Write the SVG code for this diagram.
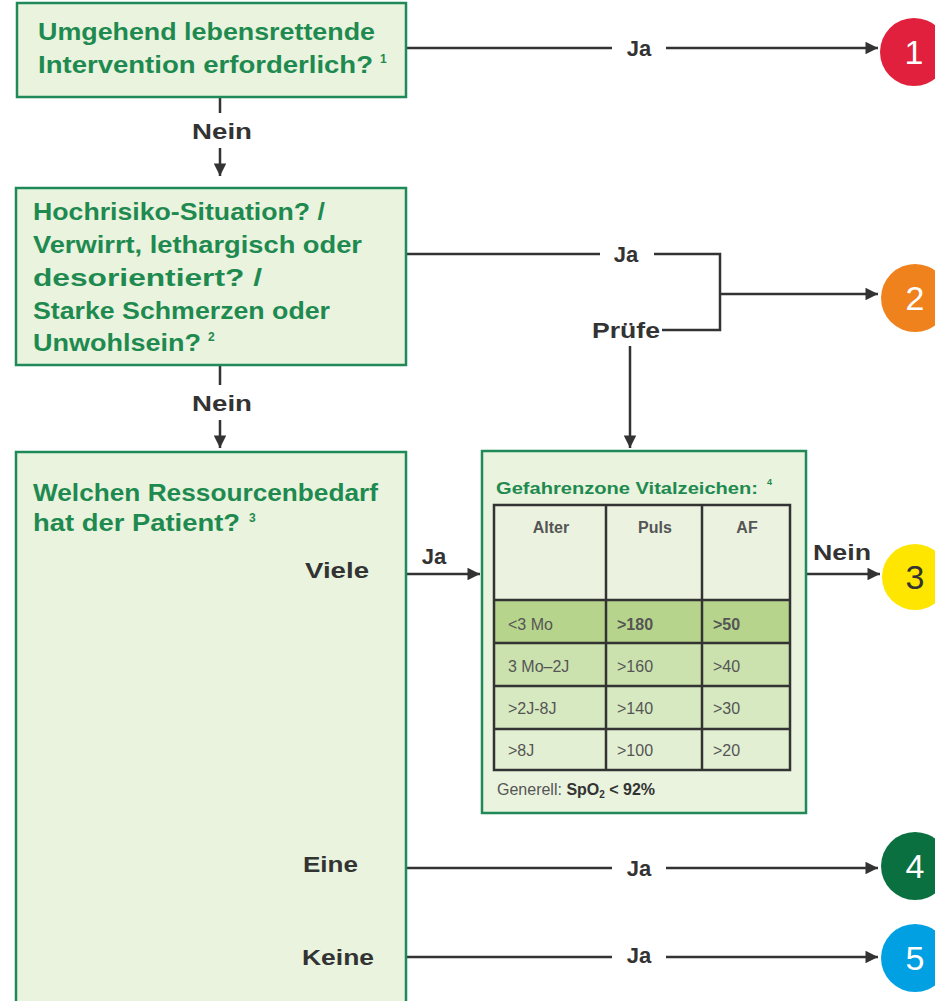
<svg xmlns="http://www.w3.org/2000/svg" width="935" height="1001" viewBox="0 0 935 1001">
<defs>
<style>
.box{fill:#e9f3de;stroke:#1f8a58;stroke-width:2.5}
.q{font-family:"Liberation Sans",Arial,sans-serif;font-weight:bold;font-size:24px;fill:#1f8a50}
.qs{font-family:"Liberation Sans",Arial,sans-serif;font-weight:bold;font-size:16px;fill:#1f8a50}
.sup{font-family:"Liberation Sans",Arial,sans-serif;font-weight:bold;font-size:12px;fill:#1f8a50}
.sups{font-family:"Liberation Sans",Arial,sans-serif;font-weight:bold;font-size:9px;fill:#1f8a50}
.lbl{font-family:"Liberation Sans",Arial,sans-serif;font-weight:bold;font-size:22px;fill:#333}
.ln{stroke:#333;stroke-width:2.5;fill:none}
.num{font-family:"Liberation Sans",Arial,sans-serif;font-size:34px;fill:#fff;text-anchor:middle}
.th{font-family:"Liberation Sans",Arial,sans-serif;font-weight:bold;font-size:16px;fill:#555;text-anchor:middle}
.td{font-family:"Liberation Sans",Arial,sans-serif;font-size:16px;fill:#555}
.cell{stroke:#333;stroke-width:2.5}
</style>
<marker id="ah" viewBox="0 0 10 10" refX="10" refY="5" markerWidth="5.5" markerHeight="5" orient="auto" markerUnits="strokeWidth">
<path d="M0,0 L10,5 L0,10 z" fill="#333"/>
</marker>
</defs>
<rect width="935" height="1001" fill="#fff"/>

<g id="connectors">
<path class="ln" d="M406,48 H612 M666,48 H878" marker-end="url(#ah)"/>
<path class="ln" d="M220,97 V113 M220,148 V176" marker-end="url(#ah)"/>
<path class="ln" d="M406,254 H600 M654,254 H720 V330 H662"/>
<path class="ln" d="M720,294 H878" marker-end="url(#ah)"/>
<path class="ln" d="M630,346 V448" marker-end="url(#ah)"/>
<path class="ln" d="M220,365 V385 M220,420 V448" marker-end="url(#ah)"/>
<path class="ln" d="M406,574 H480" marker-end="url(#ah)"/>
<path class="ln" d="M806,574 H880" marker-end="url(#ah)"/>
<path class="ln" d="M406,868 H612 M666,868 H878" marker-end="url(#ah)"/>
<path class="ln" d="M406,957 H612 M666,957 H878" marker-end="url(#ah)"/>
<text class="lbl" x="639" y="56" text-anchor="middle">Ja</text>
<text class="lbl" x="222" y="139" text-anchor="middle" textLength="60" lengthAdjust="spacingAndGlyphs">Nein</text>
<text class="lbl" x="626" y="262" text-anchor="middle">Ja</text>
<text class="lbl" x="626" y="338" text-anchor="middle" textLength="68" lengthAdjust="spacingAndGlyphs">Prüfe</text>
<text class="lbl" x="222" y="411" text-anchor="middle" textLength="60" lengthAdjust="spacingAndGlyphs">Nein</text>
<text class="lbl" x="434" y="564" text-anchor="middle">Ja</text>
<text class="lbl" x="842" y="560" text-anchor="middle" textLength="58" lengthAdjust="spacingAndGlyphs">Nein</text>
<text class="lbl" x="639" y="876" text-anchor="middle">Ja</text>
<text class="lbl" x="639" y="963" text-anchor="middle">Ja</text>
</g>

<g id="q1">
<rect class="box" x="17" y="3" width="389" height="94"/>
<text class="q" x="38" y="40" textLength="337" lengthAdjust="spacingAndGlyphs">Umgehend lebensrettende</text>
<text class="q" x="38" y="73" textLength="335" lengthAdjust="spacingAndGlyphs">Intervention erforderlich?</text>
<text class="sup" x="380" y="63">1</text>
</g>

<g id="q2">
<rect class="box" x="16" y="188" width="390" height="177"/>
<text class="q" x="33" y="220" textLength="292" lengthAdjust="spacingAndGlyphs">Hochrisiko-Situation? /</text>
<text class="q" x="33" y="253" textLength="329" lengthAdjust="spacingAndGlyphs">Verwirrt, lethargisch oder</text>
<text class="q" x="33" y="286" textLength="229" lengthAdjust="spacingAndGlyphs">desorientiert? /</text>
<text class="q" x="33" y="319" textLength="297" lengthAdjust="spacingAndGlyphs">Starke Schmerzen oder</text>
<text class="q" x="33" y="351" textLength="168" lengthAdjust="spacingAndGlyphs">Unwohlsein?</text>
<text class="sup" x="208" y="341">2</text>
</g>

<g id="q3">
<rect class="box" x="16" y="452" width="390" height="570"/>
<text class="q" x="33" y="501" textLength="345" lengthAdjust="spacingAndGlyphs">Welchen Ressourcenbedarf</text>
<text class="q" x="33" y="531" textLength="207" lengthAdjust="spacingAndGlyphs">hat der Patient?</text>
<text class="sup" x="249" y="522">3</text>
<text class="lbl" x="305" y="578" textLength="64" lengthAdjust="spacingAndGlyphs">Viele</text>
<text class="lbl" x="303" y="872" textLength="55" lengthAdjust="spacingAndGlyphs">Eine</text>
<text class="lbl" x="302" y="965" textLength="72" lengthAdjust="spacingAndGlyphs">Keine</text>
</g>

<g id="vital">
<rect class="box" x="482" y="451" width="324" height="362"/>
<text class="qs" x="496" y="494" textLength="262" lengthAdjust="spacingAndGlyphs">Gefahrenzone Vitalzeichen:</text>
<text class="sups" x="767" y="485">4</text>
<rect x="494" y="505" width="296" height="95" fill="#ebf3e0"/>
<rect x="494" y="600" width="296" height="43" fill="#b6d48c"/>
<rect x="494" y="643" width="296" height="43" fill="#cbe2ae"/>
<rect x="494" y="686" width="296" height="43" fill="#d6e9c0"/>
<rect x="494" y="729" width="296" height="41" fill="#e2efd3"/>
<g class="cell" fill="none">
<rect x="494" y="505" width="296" height="265"/>
<path d="M606,505 V770 M702,505 V770 M494,600 H790 M494,643 H790 M494,686 H790 M494,729 H790"/>
</g>
<text class="th" x="551" y="533">Alter</text>
<text class="th" x="655" y="533">Puls</text>
<text class="th" x="747" y="533">AF</text>
<text class="td" x="508" y="630">&lt;3 Mo</text>
<text class="td" x="617" y="630" font-weight="bold">&gt;180</text>
<text class="td" x="713" y="630" font-weight="bold">&gt;50</text>
<text class="td" x="508" y="672">3 Mo–2J</text>
<text class="td" x="617" y="672">&gt;160</text>
<text class="td" x="713" y="672">&gt;40</text>
<text class="td" x="508" y="714">&gt;2J-8J</text>
<text class="td" x="617" y="714">&gt;140</text>
<text class="td" x="713" y="714">&gt;30</text>
<text class="td" x="508" y="756">&gt;8J</text>
<text class="td" x="617" y="756">&gt;100</text>
<text class="td" x="713" y="756">&gt;20</text>
<text class="td" x="497" y="795">Generell: <tspan font-weight="bold" fill="#333">SpO<tspan style="font-size:10px" dy="3">2</tspan><tspan dy="-3"> &lt; 92%</tspan></tspan></text>
</g>

<g id="c1"><circle cx="914" cy="52" r="34" fill="#e0203c"/><text class="num" x="914" y="64">1</text></g>
<g id="c2"><circle cx="915" cy="298" r="34" fill="#f0821e"/><text class="num" x="915" y="310">2</text></g>
<g id="c3"><circle cx="915" cy="577" r="33" fill="#ffe600"/><text class="num" x="915" y="589" style="fill:#333">3</text></g>
<g id="c4"><circle cx="915" cy="866" r="34" fill="#0b7040"/><text class="num" x="915" y="878">4</text></g>
<g id="c5"><circle cx="915" cy="958" r="34" fill="#00a0e3"/><text class="num" x="915" y="970">5</text></g>
</svg>
